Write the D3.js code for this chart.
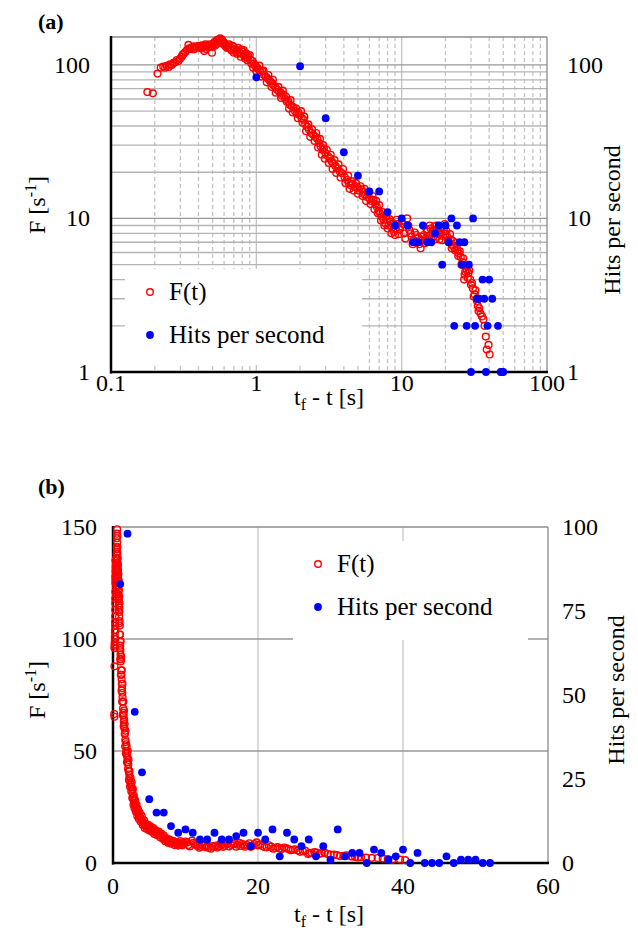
<!DOCTYPE html>
<html lang="en"><head>
<meta charset="utf-8">
<title>F(t) and hits per second</title>
<script src="https://cdn.jsdelivr.net/npm/d3@7"></script>
<style>
  body { margin: 0; background: #fff; }
  svg text { font-family: "Liberation Serif", "DejaVu Serif", serif; fill: #000; }
</style>
</head>
<body>
<script type="text/javascript">

var width = 638;
var height = 931;
var serif = "Liberation Serif, DejaVu Serif, serif";
var tickSize = 24;
var titleSize = 24;

// F(t): time to failure [s] and rate [1/s]
var fTime = [0.178,0.194,0.209,0.220,0.229,0.236,0.242,0.250,0.255,0.262,0.269,0.276,0.284,0.291,0.299,0.307,0.315,0.324,0.333,0.341,
  0.350,0.360,0.372,0.380,0.390,0.400,0.411,0.422,0.430,0.438,0.447,0.457,0.466,0.476,0.485,0.495,0.508,0.516,0.525,0.535,
  0.545,0.553,0.563,0.572,0.580,0.594,0.605,0.614,0.626,0.640,0.650,0.661,0.675,0.686,0.697,0.710,0.723,0.736,0.750,0.763,
  0.776,0.790,0.805,0.818,0.830,0.839,0.850,0.863,0.880,0.900,0.912,0.924,0.940,0.960,0.98,1.00,1.02,1.04,1.07,1.10,
  1.13,1.16,1.19,1.22,1.25,1.28,1.31,1.35,1.39,1.43,1.47,1.50,1.54,1.58,1.62,1.66,1.70,1.75,1.80,1.85,
  1.90,1.95,2.00,2.05,2.11,2.17,2.24,2.30,2.38,2.47,2.55,2.62,2.70,2.77,2.85,2.92,2.99,3.10,3.22,3.30,
  3.38,3.50,3.63,3.75,3.89,4.05,4.22,4.33,4.44,4.60,4.75,4.93,5.10,5.28,5.47,5.60,5.78,6.00,6.20,6.40,
  6.58,6.75,6.95,7.10,7.29,7.50,7.70,7.90,8.10,8.40,8.60,8.85,9.10,9.40,9.70,10.0,10.4,10.9,11.3,11.7,
  12.1,12.6,13.0,13.5,13.9,14.2,14.6,15.0,15.4,15.8,16.3,16.8,17.2,17.6,18.0,18.5,19.0,19.5,20.0,20.6,
  21.2,21.8,22.4,23.0,23.6,24.2,24.8,25.5,26.2,26.9,27.4,28.1,28.8,29.6,30.5,31.3,32.2,32.8,33.4,34.2,
  34.9,35.7,36.5,37.2,37.9,38.5,39.6,40.3];
var fValue = [66.5,65.3,87.8,96,97.5,96,98.6,97,101,100,103,104,107.6,106,110,113,118,121,125,135,
  127,130,132,128,131,133,130,134,131,123,136,133,130,136,132,120,138,141,136,145,
  140,147,149,143,146,141,138,132,134,130,136,128,124,133,131,127,122,125,129,121,
  119,126,122,125,117,110,119,112,114,116,108,102,106,102,99,97,95,93,90,91,
  86,84,82,80,78,76,74,72,69,67,66,63,64,60,57.6,58,55,54,53,50,
  48,49,47,45,44,41,39.5,38,36,35,34,33,31,29.4,28,28.5,26.6,25.5,24.6,23.5,
  22.9,22,21.2,20.2,19.7,18.6,17.8,17.0,16.5,16.8,16.0,16.1,15.2,15.5,14.9,14.2,13.8,13.5,13.0,13.2,
  12.4,11.9,11.2,10.8,10.3,9.8,9.3,9.9,9.0,9.5,8.7,8.2,8.6,9.2,8.5,9.6,8.0,10.0,8.4,7.6,
  7.2,7.8,7.5,6.4,7.2,7.8,7.4,8.2,7.7,8.6,8.0,8.9,8.2,7.6,7.9,8.0,7.2,8.4,7.9,7.6,
  7.0,7.3,6.7,6.5,6.9,6.2,5.9,5.6,5.2,4.0,4.5,4.6,4.4,4.0,3.8,3.1,3.4,3.0,2.7,2.6,
  2.4,2.3,2.2,2.0,1.7,1.4,1.5,1.3];

// the remaining F(t) points
var fTimeMore = [0.31,0.345,0.37,0.42,0.45,0.50,0.52,0.56,0.60,0.63,0.67,0.70,0.74,0.78,0.82,0.87,0.95,1.0,1.05,1.08,
  1.12,1.18,1.21,1.27,1.30,1.36,1.42,1.48,1.52,1.60,1.68,1.72,1.78,1.88,1.93,2.03,2.08,2.14,2.20,2.28,
  2.35,2.42,2.52,2.58,2.66,2.74,2.82,2.88,2.96,3.05,3.15,3.25,3.35,3.45,3.55,3.68,3.80,3.95,4.10,4.28,
  4.38,4.52,4.68,4.85,5.00,5.20,5.38,5.55,5.70,5.90,6.10,6.30,6.50,6.68,6.85,7.00,7.20,7.40,7.60,7.80,
  8.0,8.25,8.50,8.75,9.0,9.25,9.55,9.85,10.2,10.6,11.1,11.5,11.9,12.3,12.8,13.2,13.7,14.4,14.8,15.2,
  15.6,16.0,16.6,17.0,17.4,17.8,18.2,18.8,19.2,19.8,20.3,20.9,21.5,22.1,22.7,23.3,23.9,24.5,25.1,25.8,
  26.5,27.1,27.8,28.5,29.2,30.0,30.9,31.8,33.0,33.8];
var fValueMore = [116,128,126,128,127,131,134,139,136,129,126,120,118,113,115,107,96,91,99,84,
  92,77,86,72,80,66,72,61,68,62,52,59,49,52,45,50,42,46,37,41,
  34,38,32,36,29,33,26,30,24.5,28,23,26,21,24,19.8,22.5,18.5,21,17,19,
  15.6,17.5,15.2,17,14.5,16.2,14,15.6,13,14.6,12.4,14,11.5,13,10.8,12.2,9.7,11,9,10.4,
  8.6,9.9,8.0,9.3,7.8,9.8,7.9,8.9,9.2,7.4,9.0,8.0,6.8,8.1,7.0,6.8,7.6,6.9,8.5,7.2,
  9.0,7.4,8.4,7.3,9.0,8.6,7.3,8.8,7.7,9.2,8.3,7.1,7.9,6.4,7.1,6.2,6.6,5.7,6.1,5.0,
  5.5,4.3,4.9,4.1,4.6,3.7,3.5,3.2,2.9,2.5];

// hits per second, one count per whole second
var hitTime = [1,2,3,4,5,6,7,8,9,10,11,12,13,14,15,16,17,18,19,20,21,22,23,24,25,26,
  27,28,29,30,31,32,33,34,35,36,37,38,39,40,41,42,43,44,45,46,47,48,49,50,51,52];
var hitCount = [83,98,45,27,19,15,15,11,9,10,9,7,7,9,7,7,8,9,5,9,7,10,2,9,7,5,
  7,2,5,1,10,2,3,3,0,4,3,1,2,4,0,3,0,0,0,2,0,1,1,1,0,0];

var logTicks = [0.1, 1, 10, 100];
var logYTicks = [1, 10, 100];
var linXTicks = [0, 20, 40, 60];
var linYTicks = [0, 50, 100, 150];
var linY2Ticks = [0, 25, 50, 75, 100];

var fData = fTime.map((t, i) => ({t: t, v: fValue[i]}))
    .concat(fTimeMore.map((t, i) => ({t: t, v: fValueMore[i]})));
var hitData = hitTime.map((t, i) => ({t: t, v: hitCount[i]}));

var svg = d3.select("body").append("svg")
            .attr("width", width)
            .attr("height", height)
            .style("font-family", serif);

var red = "#ff0000";
var blue = "#0000ff";

function gridLine(g, x1, y1, x2, y2, color, dash) {
    g.append("line")
        .attr("x1", x1).attr("y1", y1).attr("x2", x2).attr("y2", y2)
        .attr("stroke", color)
        .attr("stroke-width", 1.3)
        .attr("stroke-dasharray", dash || null);
}

function drawFrame(g, x0, x1, y0, y1) {
    gridLine(g, x0, y0, x1, y0, "#8c8c8c");
    gridLine(g, x1, y0, x1, y1, "#8c8c8c");
    g.append("line").attr("x1", x0).attr("y1", y0 - 1).attr("x2", x0).attr("y2", y1 + 1.5)
        .attr("stroke", "#000").attr("stroke-width", 2.5);
    g.append("line").attr("x1", x0 - 1).attr("y1", y1).attr("x2", x1 + 1).attr("y2", y1)
        .attr("stroke", "#000").attr("stroke-width", 2.5);
}

function label(g, x, y, size) {
    return g.append("text").attr("x", x).attr("y", y)
        .attr("font-family", serif).attr("font-size", size);
}

function drawLegend(g, x, y, w, h) {
    g.append("rect").attr("x", x).attr("y", y).attr("width", w).attr("height", h).attr("fill", "#fff");
    g.append("circle").attr("cx", x + 25).attr("cy", y + 23).attr("r", 3.3)
        .attr("fill", "none").attr("stroke", red).attr("stroke-width", 1.4);
    label(g, x + 44, y + 31, 25).text("F(t)");
    g.append("circle").attr("cx", x + 25).attr("cy", y + 66).attr("r", 3.9).attr("fill", blue);
    label(g, x + 44, y + 74, 25).text("Hits per second");
}

function yTitle(g, x, y) {
    return g.append("text")
        .attr("transform", "translate(" + x + "," + y + ") rotate(-90)")
        .attr("text-anchor", "middle").attr("font-family", serif).attr("font-size", titleSize);
}

function xTitle(g, x, y) {
    var t = label(g, x, y, titleSize).attr("text-anchor", "middle");
    t.append("tspan").text("t");
    t.append("tspan").attr("font-size", 16).attr("dy", 5).text("f");
    t.append("tspan").attr("dy", -5).text("\u00a0-\u00a0t [s]");
}

function fTitle(g, x, y) {
    var t = yTitle(g, x, y);
    t.append("tspan").text("F [s");
    t.append("tspan").attr("font-size", 16).attr("dy", -9).text("-1");
    t.append("tspan").attr("dy", 9).text("]");
}

function redDots(g, data, x, y) {
    g.append("g").selectAll("circle")
        .data(data).enter().append("circle")
        .attr("cx", d => x(d.t)).attr("cy", d => y(d.v)).attr("r", 3.4)
        .attr("fill", "none").attr("stroke", red).attr("stroke-width", 1.4);
}

function blueDots(g, data, x, y) {
    g.append("g").selectAll("circle")
        .data(data).enter().append("circle")
        .attr("cx", d => x(d.t)).attr("cy", d => y(d.v)).attr("r", 3.9)
        .attr("fill", blue);
}

function tickLabels(g, values, xf, yf, anchor) {
    g.append("g").selectAll("text")
        .data(values).enter().append("text")
        .attr("x", xf).attr("y", yf).attr("text-anchor", anchor)
        .attr("font-family", serif).attr("font-size", tickSize)
        .text(d => d3.format("~g")(d));
}

// ---------- panel (a): log-log ----------
var a = svg.append("g");
var xA = d3.scaleLog().domain([0.1, 100]).range([111, 547]);
var yA = d3.scaleLog().domain([1, 152]).range([372, 37]);

var minorX = [];
[0.1, 1, 10].forEach(dec => { for (var k = 2; k <= 9; k++) minorX.push(dec * k); });
var minorY = [];
[1, 10].forEach(dec => { for (var k = 2; k <= 9; k++) minorY.push(dec * k); });

minorX.forEach(v => gridLine(a, xA(v), 37, xA(v), 372, "#c4c4c4", "4,3"));
[1, 10].forEach(v => gridLine(a, xA(v), 37, xA(v), 372, "#c4c4c4"));
minorY.forEach(v => gridLine(a, 111, yA(v), 547, yA(v), "#b4b4b4"));
[10, 100].forEach(v => gridLine(a, 111, yA(v), 547, yA(v), "#999999"));

drawLegend(a, 125, 269, 237, 96);
drawFrame(a, 111, 547, 37, 372);

redDots(a, fData, xA, yA);
blueDots(a, hitData.filter(d => d.v > 0), xA, yA);

tickLabels(a, logTicks, d => xA(d), 391, "middle");
tickLabels(a, logYTicks, 90, d => yA(d) + 8, "end");
tickLabels(a, logYTicks, 567, d => yA(d) + 8, "start");

xTitle(a, 329, 405);
fTitle(a, 45, 205);
yTitle(a, 620, 220).text("Hits per second");
label(a, 38, 29, 22).attr("font-weight", "bold").text("(a)");

// ---------- panel (b): linear ----------
var b = svg.append("g");
var xB = d3.scaleLinear().domain([0, 60]).range([113, 548]);
var yB = d3.scaleLinear().domain([0, 150]).range([863, 527]);
var yB2 = d3.scaleLinear().domain([0, 100]).range([863, 527]);

[20, 40].forEach(v => gridLine(b, xB(v), 527, xB(v), 863, "#c8c8c8"));
[50, 100].forEach(v => gridLine(b, 113, yB(v), 548, yB(v), "#999999"));

drawLegend(b, 293, 541, 235, 99);
drawFrame(b, 113, 548, 527, 863);

redDots(b, fData, xB, yB);
blueDots(b, hitData, xB, yB2);

tickLabels(b, linXTicks, d => xB(d), 894, "middle");
tickLabels(b, linYTicks, 97, d => yB(d) + 8, "end");
tickLabels(b, linY2Ticks, 562, d => yB2(d) + 8, "start");

xTitle(b, 329, 922);
fTitle(b, 45, 690);
yTitle(b, 624, 690).text("Hits per second");
label(b, 38, 494, 22).attr("font-weight", "bold").text("(b)");

</script>
</body></html>
